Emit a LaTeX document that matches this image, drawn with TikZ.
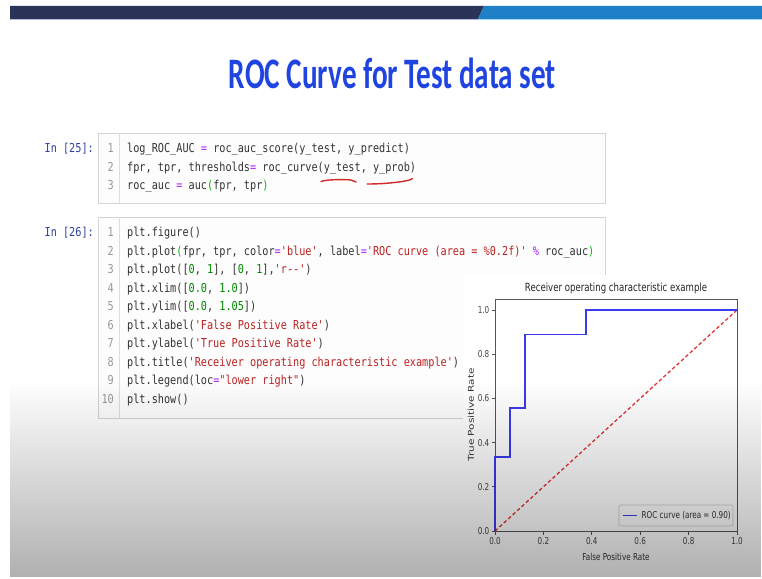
\documentclass[tikz,border=0pt]{standalone}
\usepackage{fontspec}
\usepackage{graphicx}
\usetikzlibrary{fadings}
\newfontfamily\codefont[FakeStretch=0.83,Ligatures=TeXOff]{DejaVu Sans Mono}
\newfontfamily\plotfont[FakeStretch=0.76]{DejaVu Sans}
\newfontfamily\plotfontv{DejaVu Sans}
\newfontfamily\titlefont[FakeStretch=0.67]{Carlito}
\definecolor{barnavy}{HTML}{2C3359}
\definecolor{barblue}{HTML}{1F80C8}
\definecolor{barnavyline}{HTML}{B9B6D6}
\definecolor{barblueline}{HTML}{A6D6F4}
\definecolor{titleblue}{HTML}{1F44E0}
\definecolor{codetext}{HTML}{333333}
\definecolor{cpur}{HTML}{AA22FF}
\definecolor{cgrn}{HTML}{008800}
\definecolor{cred}{HTML}{BA2121}
\definecolor{cbr}{HTML}{00BB00}
\definecolor{lnogray}{HTML}{999999}
\definecolor{promptblue}{HTML}{303F9F}
\definecolor{cellborder}{HTML}{D4D4D4}
\definecolor{gutterline}{HTML}{DDDDDD}
\definecolor{cellfill}{HTML}{FDFDFD}
\definecolor{penred}{HTML}{D42A2A}
\definecolor{rocblue}{HTML}{3B3BEE}
\definecolor{diagred}{HTML}{E03535}
\definecolor{spinegray}{HTML}{555555}
\definecolor{tickgray}{HTML}{444444}
\definecolor{legframe}{HTML}{CCCCCC}
\newcommand\Ceq{\textcolor{cpur}{=}}
\newcommand\Cnum[1]{\textcolor{cgrn}{#1}}
\newcommand\Cstr[1]{\textcolor{cred}{#1}}
\newcommand\Cbr[1]{\textcolor{cbr}{#1}}
\newcommand\Cpct{\textcolor{cpur}{\%}}
\tikzfading[name=slidefade, top color=transparent!100, bottom color=transparent!0]
\begin{document}
\begin{tikzpicture}[x=1pt,y=-1pt,
  codeline/.style={anchor=base west, inner sep=0pt, font=\codefont\fontsize{12.3}{14}\selectfont, text=codetext},
  lineno/.style={anchor=base east, inner sep=0pt, font=\codefont\fontsize{12.3}{14}\selectfont, text=lnogray},
  prompt/.style={anchor=base east, inner sep=0pt, font=\codefont\fontsize{12.3}{14}\selectfont, text=promptblue},
  cellbox/.style={draw=cellborder, fill=cellfill, line width=0.8pt},
  gutter/.style={draw=gutterline, line width=0.8pt},
  redpen/.style={draw=penred, line width=1.4pt, line cap=round},
  spine/.style={draw=spinegray, line width=0.8pt},
  tickmark/.style={draw=spinegray, line width=0.8pt},
  ticklbl/.style={inner sep=0pt, font=\plotfont\fontsize{9.5}{11}\selectfont, text=tickgray},
  plotlbl/.style={inner sep=0pt, font=\plotfont\fontsize{9.5}{11}\selectfont, text=black!80},
  roc/.style={draw=rocblue, line width=1.8pt},
  diag/.style={draw=diagred, line width=1.3pt, dash pattern=on 3.5pt off 2.5pt},
]
\useasboundingbox (0,0) rectangle (762,578);
% slide background
\fill[white] (0,0) rectangle (762,578);
% top bar
\fill[barnavy] (10,6) -- (484,6) -- (478,19) -- (10,19) -- cycle;
\fill[barblue] (484,6) -- (762,6) -- (762,19) -- (478,19) -- cycle;
\fill[barnavyline] (10,19) rectangle (478,20.5);
\fill[barblueline] (478,19) rectangle (762,20.5);
% title
\node[anchor=base, inner sep=0pt, text=titleblue, font=\titlefont\bfseries\fontsize{43.5}{48}\selectfont] (title) at (392.5,88) {ROC Curve for Test data set};

% ---- cell 25 ----
\draw[cellbox] (98,133) rectangle (605,203);
\draw[gutter] (119,133) -- (119,203);
\node[prompt] (p25) at (94,152.5) {In [25]:};
\node[lineno] (a1) at (114,152.5) {1};
\node[lineno] (a2) at (114,171.1) {2};
\node[lineno] (a3) at (114,189.6) {3};
\node[codeline] (c1) at (127,152.5) {log\_ROC\_AUC \Ceq{} roc\_auc\_score(y\_test, y\_predict)};
\node[codeline] (c2) at (127,171.1) {fpr, tpr, thresholds\Ceq{} roc\_curve(y\_test, y\_prob)};
\node[codeline] (c3) at (127,189.6) {roc\_auc \Ceq{} auc\Cbr{(}fpr, tpr\Cbr{)}};
% hand-drawn red underlines
\draw[redpen] (321,181.5) .. controls (327,179.3) and (344,179.3) .. (351,180) .. controls (354,180.4) .. (356,182);
\draw[redpen] (367,184) .. controls (385,184) and (400,182.2) .. (409,180.2) -- (412.5,178.6);

% ---- cell 26 ----
\draw[cellbox] (98,217) rectangle (605,418);
\draw[gutter] (119,217) -- (119,418);
\node[prompt] (p26) at (94,236.5) {In [26]:};
\foreach \i in {1,...,10} \node[lineno] (b\i) at (114,{236.5+18.56*(\i-1)}) {\i};
\node[codeline] (d1) at (127,236.5) {plt.figure()};
\node[codeline] (d2) at (127,255.06) {plt.plot\Cbr{(}fpr, tpr, color\Ceq\Cstr{'blue'}, label\Ceq\Cstr{'ROC curve (area = \%0.2f)'} \Cpct{} roc\_auc\Cbr{)}};
\node[codeline] (d3) at (127,273.62) {plt.plot([\Cnum{0}, \Cnum{1}], [\Cnum{0}, \Cnum{1}],\Cstr{'r--'})};
\node[codeline] (d4) at (127,292.18) {plt.xlim([\Cnum{0.0}, \Cnum{1.0}])};
\node[codeline] (d5) at (127,310.74) {plt.ylim([\Cnum{0.0}, \Cnum{1.05}])};
\node[codeline] (d6) at (127,329.3) {plt.xlabel(\Cstr{'False Positive Rate'})};
\node[codeline] (d7) at (127,347.86) {plt.ylabel(\Cstr{'True Positive Rate'})};
\node[codeline] (d8) at (127,366.42) {plt.title(\Cstr{'Receiver operating characteristic example'})};
\node[codeline] (d9) at (127,384.98) {plt.legend(loc\Ceq\Cstr{"lower right"})};
\node[codeline] (d10) at (127,403.54) {plt.show()};

% ---- plot ----
\fill[white] (463,275) rectangle (752,572);
\node[anchor=base, inner sep=0pt, font=\plotfont\fontsize{11.3}{13}\selectfont, text=black!85] (ptitle) at (616,291.5) {Receiver operating characteristic example};
\coordinate (o) at (495,531);
\draw[spine] (495,298.95) rectangle (737,531);
\foreach \x/\l [count=\i] in {495/0.0, 543.4/0.2, 591.8/0.4, 640.2/0.6, 688.6/0.8, 737/1.0} {
  \draw[tickmark] (\x,531) -- (\x,534.5);
  \node[ticklbl, anchor=north] (xt\i) at (\x,537.5) {\l};
}
\foreach \y/\l [count=\i] in {531/0.0, 486.8/0.2, 442.6/0.4, 398.4/0.6, 354.2/0.8, 310/1.0} {
  \draw[tickmark] (495,\y) -- (491.5,\y);
  \node[ticklbl, anchor=east] (yt\i) at (489.5,\y) {\l};
}
\coordinate (tr) at (737,310);
\draw[diag] (o) -- (tr);
\draw[roc] (o) -- (495,457.33) -- (510.13,457.33) -- (510.13,408.22) -- (525.25,408.22) -- (525.25,334.56) -- (585.75,334.56) -- (585.75,310) -- (tr);
% legend
\draw[draw=legframe, fill=white, line width=0.7pt, rounded corners=1.5pt] (619,505) rectangle (733,526);
\coordinate (ls) at (622.5,515.5);
\coordinate (le) at (637,515.5);
\draw[roc] (ls) -- (le);
\node[plotlbl, anchor=west] (legtxt) at (641.5,515.5) {ROC curve (area = 0.90)};
% axis labels
\node[plotlbl, anchor=center] (xlab) at (616,557) {False Positive Rate};
\node[inner sep=0pt, rotate=90, text=black!80] (ylab) at (471,415) {\scalebox{1}[0.76]{\plotfontv\fontsize{10.5}{12}\selectfont True Positive Rate}};

% slide gradient overlay
\fill[black, fill opacity=0.31, path fading=slidefade] (10,380) rectangle (762,577);
\end{tikzpicture}
\end{document}
